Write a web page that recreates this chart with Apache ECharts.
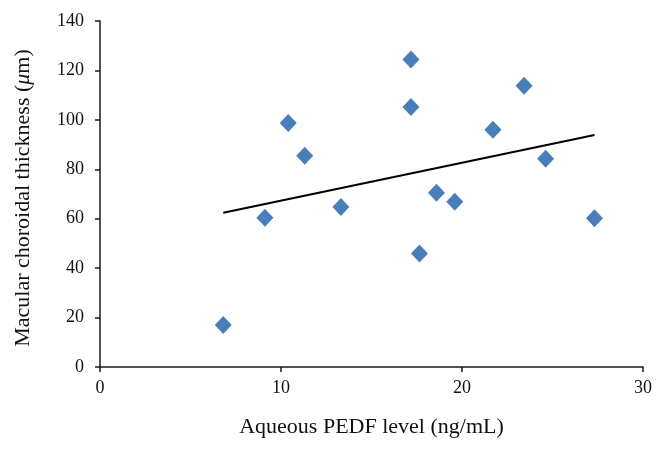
<!DOCTYPE html>
<html>
<head>
<meta charset="utf-8">
<script src="https://cdn.jsdelivr.net/npm/echarts@6/dist/echarts.min.js"></script>
<style>html,body{margin:0;padding:0;background:#fff}#c{width:666px;height:450px}</style>
</head>
<body>
<div id="c"></div>
<script>
var pedfLevel = [6.81, 9.11, 10.4, 11.31, 13.31, 17.18, 17.18, 17.65, 18.59, 19.6, 21.71, 23.43, 24.62, 27.32];
var choroidalThickness = [17.0, 60.4, 98.7, 85.5, 64.7, 124.4, 105.2, 45.9, 70.5, 66.9, 96.0, 113.8, 84.3, 60.2];
var trendX = [6.81, 27.32];
var trendY = [62.4, 93.9];
var xTicks = [0, 10, 20, 30];
var yTicks = [0, 20, 40, 60, 80, 100, 120, 140];

var FONT = '"Liberation Serif", "DejaVu Serif", serif';
var chart = echarts.init(document.getElementById('c'), null, {renderer: 'canvas'});
var axisCommon = {
  type: 'value',
  axisLine: {show: true, lineStyle: {color: '#1a1a1a', width: 1.5}},
  axisTick: {show: true, inside: false, length: 5, lineStyle: {color: '#1a1a1a', width: 1.5}},
  splitLine: {show: false},
  axisLabel: {color: '#111', fontFamily: FONT, fontSize: 18}
};
chart.setOption({
  animation: false,
  backgroundColor: '#fff',
  grid: {left: 100, right: 23, top: 21, bottom: 83, containLabel: false},
  xAxis: Object.assign({}, axisCommon, {
    min: xTicks[0], max: xTicks[xTicks.length - 1], interval: 10,
    name: 'Aqueous PEDF level (ng/mL)',
    nameLocation: 'middle', nameGap: 49,
    nameTextStyle: {color: '#111', fontFamily: FONT, fontSize: 22},
    axisLabel: Object.assign({}, axisCommon.axisLabel, {margin: 12})
  }),
  yAxis: Object.assign({}, axisCommon, {
    min: yTicks[0], max: yTicks[yTicks.length - 1], interval: 20,
    name: 'Macular choroidal thickness ({i|μ}m)',
    nameLocation: 'middle', nameGap: 66,
    nameTextStyle: {color: '#111', fontFamily: FONT, fontSize: 22, padding: [0, 8, 0, 0],
      rich: {i: {fontStyle: 'italic', fontFamily: FONT, fontSize: 22, color: '#111'}}},
    axisLabel: Object.assign({}, axisCommon.axisLabel, {margin: 16})
  }),
  series: [
    {
      type: 'scatter',
      symbol: 'diamond',
      symbolSize: [17, 18],
      itemStyle: {color: '#4A7EBB', opacity: 1},
      data: pedfLevel.map(function (x, i) { return [x, choroidalThickness[i]]; }),
      z: 3
    },
    {
      type: 'line',
      showSymbol: false,
      symbol: 'none',
      lineStyle: {color: '#000', width: 2},
      data: trendX.map(function (x, i) { return [x, trendY[i]]; }),
      z: 2
    }
  ]
});
</script>
</body>
</html>
